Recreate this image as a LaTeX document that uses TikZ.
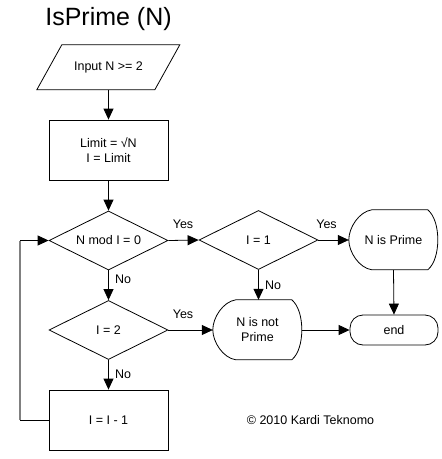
\documentclass[tikz,border=0pt]{standalone}
\usepackage{fontspec}
\setmainfont{Liberation Sans}
\usetikzlibrary{shapes.geometric,arrows.meta,calc}
\begin{document}
\begin{tikzpicture}[x=1pt,y=-1pt,
  every node/.style={font=\fontsize{12.5}{15}\selectfont,inner sep=0pt,align=center},
  ln/.style={line width=0.8pt},
  arr/.style={line width=0.8pt,-{Triangle[length=11pt,width=10pt]}},
  dec/.style={draw,line width=0.8pt,diamond,aspect=2,minimum width=119pt,minimum height=59pt},
  procbox/.style={draw,line width=0.8pt,rectangle,minimum width=119pt,minimum height=60pt},
  dispbox/.style={rectangle,minimum width=89pt,minimum height=60pt},
  termbox/.style={draw,line width=0.8pt,rectangle,rounded corners=13pt,minimum width=88pt,minimum height=30pt},
  lbl/.style={font=\fontsize{12.5}{15}\selectfont}
]
\useasboundingbox (0,0) rectangle (442,459);

\node[font=\fontsize{25}{30}\selectfont] (title) at (108.5,19) {IsPrime (N)};

% input parallelogram
\node[rectangle,minimum width=143pt,minimum height=45pt] (inp) at (108.5,67.5) {Input N >= 2};
\draw[ln,shift={(inp.north west)}] (25,0) -- (143,0) -- (118,45) -- (0,45) -- cycle;

\node[procbox] (lim) at (108.5,150) {Limit = √N\\I = Limit};
\node[dec] (d1) at (108.5,240.5) {N mod I = 0};
\node[dec] (d2) at (258.5,240) {I = 1};
\node[dec] (d3) at (108.5,330) {I = 2};
\node[procbox] (dec1) at (108.5,420) {I = I - 1};

\node[dispbox] (np) at (393.5,240) {N is Prime};
\node[dispbox] (nnp) at (257.5,330) {N is not\\Prime};
\foreach \n in {np,nnp}{
  \draw[ln,shift={(\n.north west)}] (23,0) -- (79,0)
    .. controls (86,6) and (89,18) .. (89,30)
    .. controls (89,42) and (86,54) .. (79,60)
    -- (23,60)
    .. controls (10,58) and (0,42) .. (0,30)
    .. controls (0,18) and (10,2) .. (23,0) -- cycle;
}
\node[termbox] (end) at (394,330) {end};

\node[lbl] at (310.5,420) {© 2010 Kardi Teknomo};

% connectors
\draw[arr] (inp.south) -- (lim.north);
\draw[arr] (lim.south) -- (d1.north);
\draw[arr] (d1.east) -- (d2.west);
\draw[arr] (d2.east) -- (np.west);
\draw[arr] (d2.south) -- (d2.south |- nnp.north);
\draw[arr] (d1.south) -- (d3.north);
\draw[arr] (d3.east) -- (nnp.west);
\draw[arr] (nnp.east) -- (end.west);
\draw[arr] (np.south) -- (end.north);
\draw[arr] (d3.south) -- (dec1.north);

\coordinate (lb) at (20,420);
\coordinate (lt) at (20,240.5);
\draw[ln] (dec1.west) -- (lb);
\draw[line width=2pt,gray] (lb) -- (lt);
\draw[arr] (lt) -- (d1.west);

% labels
\node[lbl] at (183,224) {Yes};
\node[lbl] at (326.5,224) {Yes};
\node[lbl] at (123,279) {No};
\node[lbl] at (273,285) {No};
\node[lbl] at (183,314) {Yes};
\node[lbl] at (123,374) {No};
\end{tikzpicture}
\end{document}
